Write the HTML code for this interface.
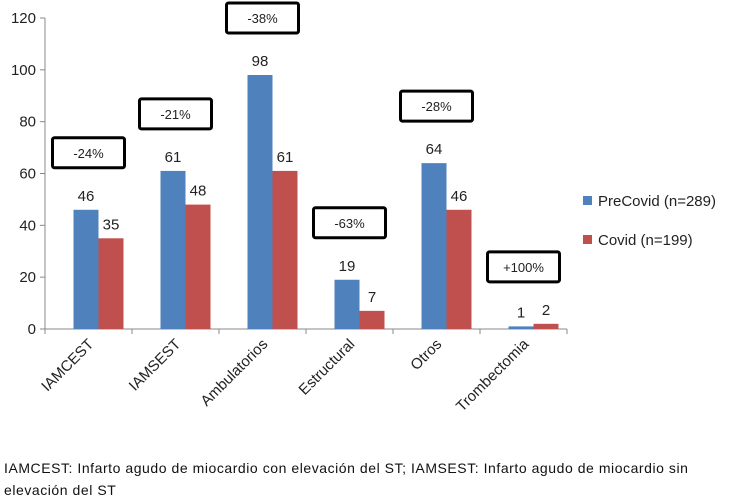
<!DOCTYPE html>
<html><head><meta charset="utf-8"><style>
body{margin:0;background:#fff;width:750px;height:501px;overflow:hidden;font-family:"Liberation Sans",sans-serif}
svg text{font-family:"Liberation Sans",sans-serif;fill:#222}
.foot{position:absolute;left:4px;top:457px;width:745px;font-size:14px;letter-spacing:0.55px;line-height:22px;color:#111;white-space:nowrap}
</style></head><body>
<svg id="chart" width="750" height="501" style="position:absolute;left:0;top:0"></svg>
<div class="foot">IAMCEST: Infarto agudo de miocardio con elevación del ST; IAMSEST: Infarto agudo de miocardio sin<br>elevación del ST</div>
<script>
const categories=["IAMCEST","IAMSEST","Ambulatorios","Estructural","Otros","Trombectomia"];
const preCovid=[46,61,98,19,64,1];
const covid=[35,48,61,7,46,2];
const changeLabels=["-24%","-21%","-38%","-63%","-28%","+100%"];
const yTicks=[0,20,40,60,80,100,120];
const NS="http://www.w3.org/2000/svg";
const svg=document.getElementById('chart');
const x0=45,catW=87,y0=329,yTop=18,yMax=120;
const y=v=>y0-(v/yMax)*(y0-yTop);
const cx=i=>x0+catW*i+catW/2;
function mk(t,a,txt){const e=document.createElementNS(NS,t);for(const k in a)e.setAttribute(k,a[k]);if(txt!==undefined)e.textContent=txt;svg.appendChild(e);return e;}
let e=mk('line',{x1:x0,y1:yTop,x2:x0,y2:y0,stroke:'#888'});


e=mk('line',{x1:x0,y1:y0,x2:x0+catW*6,y2:y0,stroke:'#888'});


yTicks.forEach(v=>{
 mk('line',{x1:x0-5,y1:y(v),x2:x0,y2:y(v),stroke:'#888'});
 e=mk('text',{x:x0-9,y:y(v)+5,'text-anchor':'end','font-size':15},v);
 
 
});
for(let i=0;i<=6;i++)mk('line',{x1:x0+catW*i,y1:y0,x2:x0+catW*i,y2:y0+5,stroke:'#888'});
categories.forEach((c,i)=>{
 const bx=cx(i)-15;
 e=mk('rect',{x:bx,y:y(preCovid[i]),width:25,height:y0-y(preCovid[i]),fill:'#4f81bd'});
 
 
 e=mk('rect',{x:bx+25,y:y(covid[i]),width:25,height:y0-y(covid[i]),fill:'#c0504d'});
 
 
 e=mk('text',{x:bx+12.5,y:y(preCovid[i])-9,'text-anchor':'middle','font-size':15},preCovid[i]);
 
 
 e=mk('text',{x:bx+37.5,y:y(covid[i])-9,'text-anchor':'middle','font-size':15},covid[i]);
 
 
 const top=y(Math.max(preCovid[i],covid[i]))-72;
 e=mk('rect',{x:cx(i)-36,y:top,width:72,height:30,fill:'#fff',stroke:'#000','stroke-width':3,rx:2});
 
 
 e=mk('text',{x:cx(i),y:top+20,'text-anchor':'middle','font-size':13},changeLabels[i]);
 
 
 e=mk('text',{x:cx(i)+6,y:y0+16,'text-anchor':'end','font-size':15,transform:`rotate(-45 ${cx(i)+6} ${y0+16})`},c);
 
 
});
e=mk('rect',{x:583,y:196,width:9,height:9,fill:'#4f81bd'});


e=mk('text',{x:598,y:206,'font-size':15},'PreCovid (n=289)');


e=mk('rect',{x:583,y:235,width:9,height:9,fill:'#c0504d'});


e=mk('text',{x:598,y:245,'font-size':15},'Covid (n=199)');


</script>
</body></html>
